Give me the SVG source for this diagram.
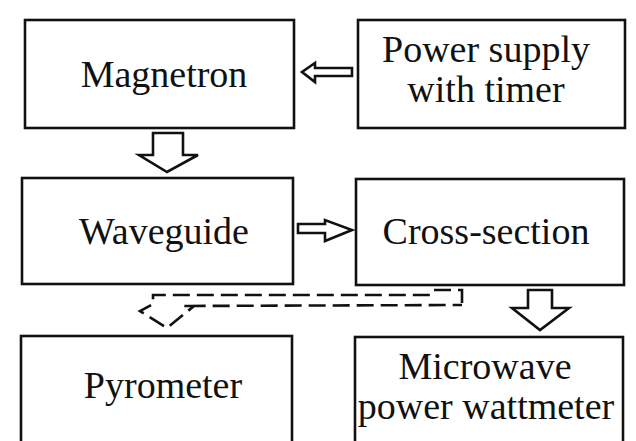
<svg xmlns="http://www.w3.org/2000/svg" width="636" height="441" viewBox="0 0 636 441">
<style>
.box{fill:#fff;stroke:#111;stroke-width:2.6}
.lbl{font-family:"Liberation Serif","Times New Roman",serif;font-size:38px;fill:#111;text-anchor:middle}
.arr{fill:#fff;stroke:#111;stroke-width:2.6;stroke-linejoin:miter}
.dash{fill:none;stroke:#111;stroke-width:2.6;stroke-dasharray:17 7}
</style>
<rect width="636" height="441" fill="#fff"/>
<g id="magnetron"><rect class="box" x="25" y="20" width="269" height="108"/><text class="lbl" x="164" y="87">Magnetron</text></g>
<g id="power-supply"><rect class="box" x="358" y="20" width="267" height="108"/><text class="lbl" x="486" y="62">Power supply</text><text class="lbl" x="486" y="102">with timer</text></g>
<g id="waveguide"><rect class="box" x="22" y="178" width="271" height="106"/><text class="lbl" x="164" y="244">Waveguide</text></g>
<g id="cross-section"><rect class="box" x="356" y="179" width="268" height="106"/><text class="lbl" x="486" y="244">Cross-section</text></g>
<g id="pyrometer"><rect class="box" x="21" y="336" width="271" height="110"/><text class="lbl" x="163" y="398">Pyrometer</text></g>
<g id="wattmeter"><rect class="box" x="355" y="337" width="268" height="110"/><text class="lbl" x="485" y="379">Microwave</text><text class="lbl" x="486" y="419">power wattmeter</text></g>
<g id="connectors">
<path class="arr" d="M352,68 L315,68 L315,63 L302,72 L315,82 L315,76 L352,76 Z"/>
<path class="arr" d="M153,133 L183,133 L183,155 L198,155 L167,172 L139,155 L153,155 Z"/>
<path class="arr" d="M298,224 L325,224 L325,220 L352,230 L325,241 L325,233 L298,233 Z"/>
<path class="arr" d="M528,290 L552,290 L552,308 L569,308 L540,330 L512,308 L528,308 Z"/>
<path class="dash" d="M462,303 L462,290 L433,290 L430,295 L153,295 L153,304 L140,311 L167,328 L194,306 L183,306 L462,305"/>
</g>
</svg>
